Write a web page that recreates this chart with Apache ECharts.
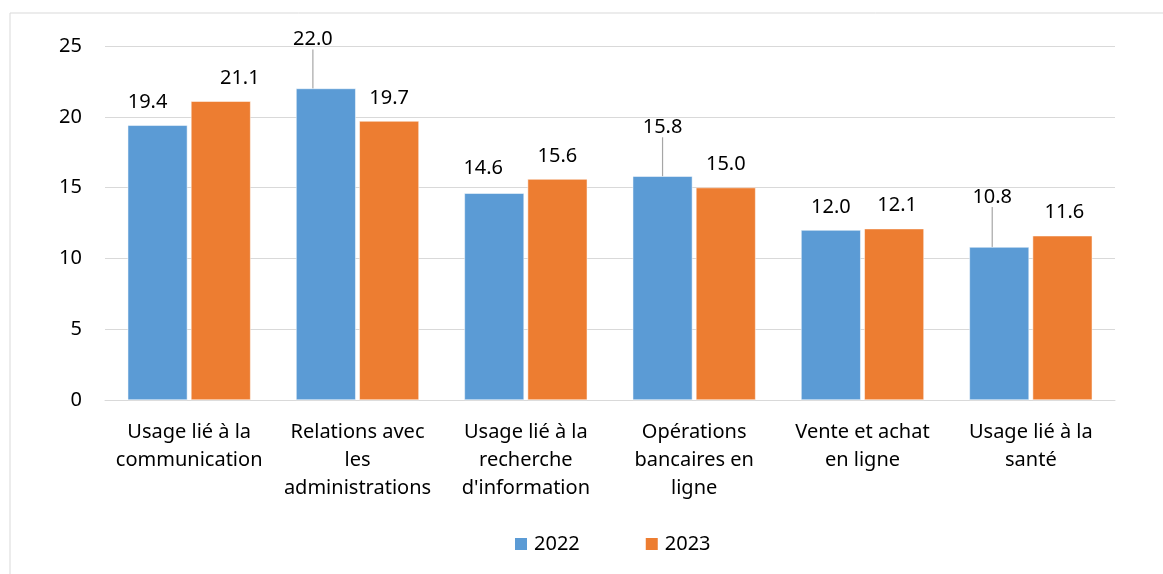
<!DOCTYPE html>
<html>
<head>
<meta charset="utf-8">
<script src="https://cdn.jsdelivr.net/npm/echarts@6/dist/echarts.min.js"></script>
<style>
    html, body {margin: 0; padding: 0; background: #fff;}
    #chart {width: 1163px; height: 574px;}
</style>
</head>
<body>
<div id="chart"></div>
<script>
// categories (line breaks as in the original chart)
const categories = [
    'Usage lié à la\ncommunication',
    'Relations avec\nles\nadministrations',
    'Usage lié à la\nrecherche\nd\'information',
    'Opérations\nbancaires en\nligne',
    'Vente et achat\nen ligne',
    'Usage lié à la\nsanté'
];
const values2022 = [19.4, 22.0, 14.6, 15.8, 12.0, 10.8];
const values2023 = [21.1, 19.7, 15.6, 15.0, 12.1, 11.6];
const yTicks = [0, 5, 10, 15, 20, 25];

// label nudges, [seriesIndex][dataIndex] -> [dx, dy]
const labelShift = [
    [[-10, 0], [-13, -26], [-11, -2], [0, -26], [0, 0], [-7, -27]],
    [[19, 0], [0, 0], [0, 0], [0, 0], [3, 0], [2, 0]]
];
// which labels get a leader line
const withLine = [
    [false, true, false, true, false, true],
    [false, false, false, false, false, false]
];

const FONT = 'Noto Sans';

function buildData(vals, si) {
    return vals.map(function (v, i) {
        return {value: v, labelLine: {show: withLine[si][i]}};
    });
}

function barLabel() {
    return {
        show: true,
        position: 'top',
        distance: 13,
        color: '#000',
        fontFamily: FONT,
        fontSize: 20,
        formatter: function (p) { return p.value.toFixed(1); }
    };
}

let chart = echarts.init(document.getElementById('chart'));

let option = {
    animation: false,
    backgroundColor: '#fff',
    textStyle: {fontFamily: FONT},
    color: ['#5B9BD5', '#ED7D31'],
    graphic: [{
        type: 'rect',
        shape: {x: 10, y: 13, width: 1160, height: 570},
        style: {fill: 'none', stroke: '#D9D9D9', lineWidth: 1},
        silent: true,
        z: -1
    }],
    grid: {left: 105, right: 48, top: 46, bottom: 174},
    legend: {
        bottom: 15,
        left: 508,
        itemWidth: 14,
        itemHeight: 14,
        itemGap: 64,
        icon: 'rect',
        textStyle: {fontFamily: FONT, fontSize: 20, color: '#000', padding: [0, 0, 0, 1]},
        data: ['2022', '2023']
    },
    xAxis: {
        type: 'category',
        data: categories,
        axisLine: {show: true, lineStyle: {color: '#D9D9D9', width: 1}},
        axisTick: {show: false},
        axisLabel: {
            interval: 0,
            margin: 18,
            color: '#000',
            fontFamily: FONT,
            fontSize: 20,
            lineHeight: 28
        }
    },
    yAxis: {
        type: 'value',
        min: yTicks[0],
        max: yTicks[yTicks.length - 1],
        interval: 5,
        axisLine: {show: false},
        axisTick: {show: false},
        splitLine: {lineStyle: {color: '#D9D9D9', width: 1}},
        axisLabel: {color: '#000', fontFamily: FONT, fontSize: 20, margin: 23}
    },
    labelLayout: function (params) {
        let s = labelShift[params.seriesIndex][params.dataIndex];
        return {dx: s[0], dy: s[1]};
    },
    series: [
        {
            name: '2022',
            type: 'bar',
            data: buildData(values2022, 0),
            barGap: '6%',
            barCategoryGap: '27%',
            itemStyle: {borderColor: '#fff', borderWidth: 0.5},
            label: barLabel(),
            labelLine: {show: true, lineStyle: {color: '#A6A6A6', width: 1.2}}
        },
        {
            name: '2023',
            type: 'bar',
            data: buildData(values2023, 1),
            itemStyle: {borderColor: '#fff', borderWidth: 0.5},
            label: barLabel(),
            labelLine: {show: true, lineStyle: {color: '#A6A6A6', width: 1.2}}
        }
    ]
};

chart.setOption(option);
</script>
</body>
</html>
